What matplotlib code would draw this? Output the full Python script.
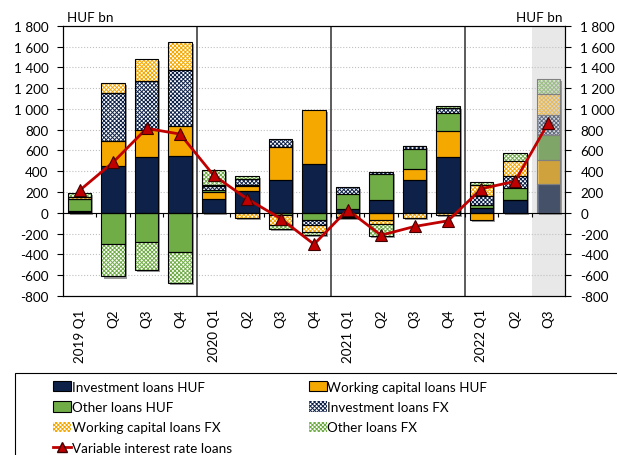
import matplotlib.pyplot as plt
import matplotlib.patheffects as pe
import numpy as np
from matplotlib.patches import Rectangle
from matplotlib.lines import Line2D

plt.rcParams['font.family'] = ['Lato', 'DejaVu Sans']
plt.rcParams['font.size'] = 9.7
plt.rcParams['hatch.linewidth'] = 0.7

quarters = ['2019 Q1', 'Q2', 'Q3', 'Q4', '2020 Q1', 'Q2', 'Q3', 'Q4',
            '2021 Q1', 'Q2', 'Q3', 'Q4', '2022 Q1', 'Q2', 'Q3']

inv_huf = [4, 448, 539, 545, 135, 213, 319, 474, 35, 119, 319, 535, 42, 119, 281]
wc_huf = [15, 245, 258, 287, 61, 45, 319, 519, -5, -68, 103, 248, -68, 0, 223]
other_huf = [118, -300, -284, -377, 20, 10, -20, -65, 145, 252, 194, 177, 32, 123, 242]
inv_fx = [0, 465, 471, 542, 40, 55, 74, -48, 65, 23, 29, 48, 90, 116, 200]
wc_fx = [17, 90, 213, 274, 15, -52, -100, -71, -35, -39, -48, -20, 103, 145, 194]
other_fx = [38, -313, -268, -297, 139, 35, -39, -26, -10, -113, 0, 16, 26, 74, 152]
variable = [216, 487, 813, 758, 361, 135, -55, -303, 29, -216, -132, -77, 232, 303, 868]

navy, orange, green = '#0d2149', '#f5a800', '#70ad47'
check = 'xxxxxxxx'
series = [
    ('Investment loans HUF', inv_huf, navy, None),
    ('Working capital loans HUF', wc_huf, orange, None),
    ('Other loans HUF', other_huf, green, None),
    ('Investment loans FX', inv_fx, navy, check),
    ('Working capital loans FX', wc_fx, orange, check),
    ('Other loans FX', other_fx, green, check),
]

fig = plt.figure(figsize=(6.17, 4.56), dpi=100)
ax = fig.add_axes([0.102, 0.349, 0.916 - 0.102, 0.941 - 0.349])

n = len(quarters)
x = np.arange(n)
width = 0.7

ax.axvspan(n - 1.5, n - 0.5, color='#e8e8e8', zorder=0, lw=0)

pos_base = np.zeros(n)
neg_base = np.zeros(n)
handles = {}
for label, vals, col, hatch in series:
    v = np.array(vals, dtype=float)
    bottoms = np.where(v >= 0, pos_base, neg_base)
    if hatch:
        fill = ax.bar(x, v, width, bottom=bottoms, color='white', edgecolor=col,
                      hatch=hatch, lw=0, zorder=2)
    else:
        fill = ax.bar(x, v, width, bottom=bottoms, color=col, lw=0, zorder=2)
    outline = ax.bar(x, v, width, bottom=bottoms, fill=False, edgecolor='black',
                     lw=0.8, zorder=3)
    # forecast quarter drawn faded
    fill.patches[-1].set_alpha(0.6)
    outline.patches[-1].set_edgecolor('#808080')
    pos_base += np.where(v > 0, v, 0)
    neg_base += np.where(v < 0, v, 0)
    if hatch:
        handles[label] = Rectangle((0, 0), 1, 1, facecolor='white', edgecolor=col,
                                   hatch=hatch, lw=0)
    else:
        handles[label] = Rectangle((0, 0), 1, 1, facecolor=col, edgecolor='black', lw=0.8)

# drop shadow behind each stacked column
ax.bar(x, pos_base - neg_base, width, bottom=neg_base, zorder=1.5,
       path_effects=[pe.SimplePatchShadow(offset=(1.5, -1.5), shadow_rgbFace='#9a9a9a', alpha=1)])

line, = ax.plot(x, variable, color='#c00000', lw=2, marker='^', ms=8.5,
                mfc='#c00000', mec='#400000', mew=0.8, zorder=6)

# year separators
for i, q in enumerate(quarters):
    if i > 0 and q.startswith('20'):
        ax.axvline(i - 0.5, color='#404040', lw=1.2, zorder=1)

ax.axhline(0, color='black', lw=0.8, zorder=4)
ax.vlines(x[:-1] + 0.5, -45, 0, color='black', lw=0.8, zorder=4)

ax.set_xlim(-0.5, n - 0.5)
ax.set_ylim(-800, 1800)
yt = np.arange(-800, 1801, 200)
ylab = [f'{v:,}'.replace(',', ' ') for v in yt]
ax.set_yticks(yt)
ax.set_yticklabels(ylab)
ax.set_xticks(x)
ax.set_xticklabels(quarters, rotation=90)
ax.tick_params(axis='x', length=0, pad=9)
ax.tick_params(axis='y', length=4, direction='out', pad=6.5)
ax.yaxis.grid(True, linestyle=':', color='#c0c0c0', lw=0.8)
ax.set_axisbelow(True)
for s in ax.spines.values():
    s.set_linewidth(0.8)

ax2 = ax.twinx()
ax2.set_ylim(ax.get_ylim())
ax2.set_yticks(yt)
ax2.set_yticklabels(ylab)
ax2.tick_params(axis='y', length=4, direction='out', pad=7)
for s in ax2.spines.values():
    s.set_linewidth(0.8)

fig.text(67 / 617, 1 - 18 / 456, 'HUF bn', ha='left', va='center')
fig.text(563 / 617, 1 - 18 / 456, 'HUF bn', ha='right', va='center')

# legend box
fig.patches.append(Rectangle((15 / 617, -0.1), 1.0, 0.1 + 1 - 374 / 456,
                             transform=fig.transFigure, fill=False,
                             edgecolor='black', lw=0.8))
handles['Variable interest rate loans'] = Line2D([], [], color='#c00000', lw=2, marker='^',
                                                 ms=7, mfc='#c00000', mec='#400000')
order = ['Investment loans HUF', 'Other loans HUF', 'Working capital loans FX',
         'Variable interest rate loans', 'Working capital loans HUF',
         'Investment loans FX', 'Other loans FX']
fig.legend([handles[k] for k in order], order, ncol=2, loc='upper left',
           bbox_to_anchor=(46 / 617, 1 - 375 / 456), frameon=False, borderpad=0,
           handlelength=1.35, handleheight=0.8, handletextpad=0.05,
           columnspacing=5.7, labelspacing=0.62)

fig.savefig('out.png', dpi=100)
